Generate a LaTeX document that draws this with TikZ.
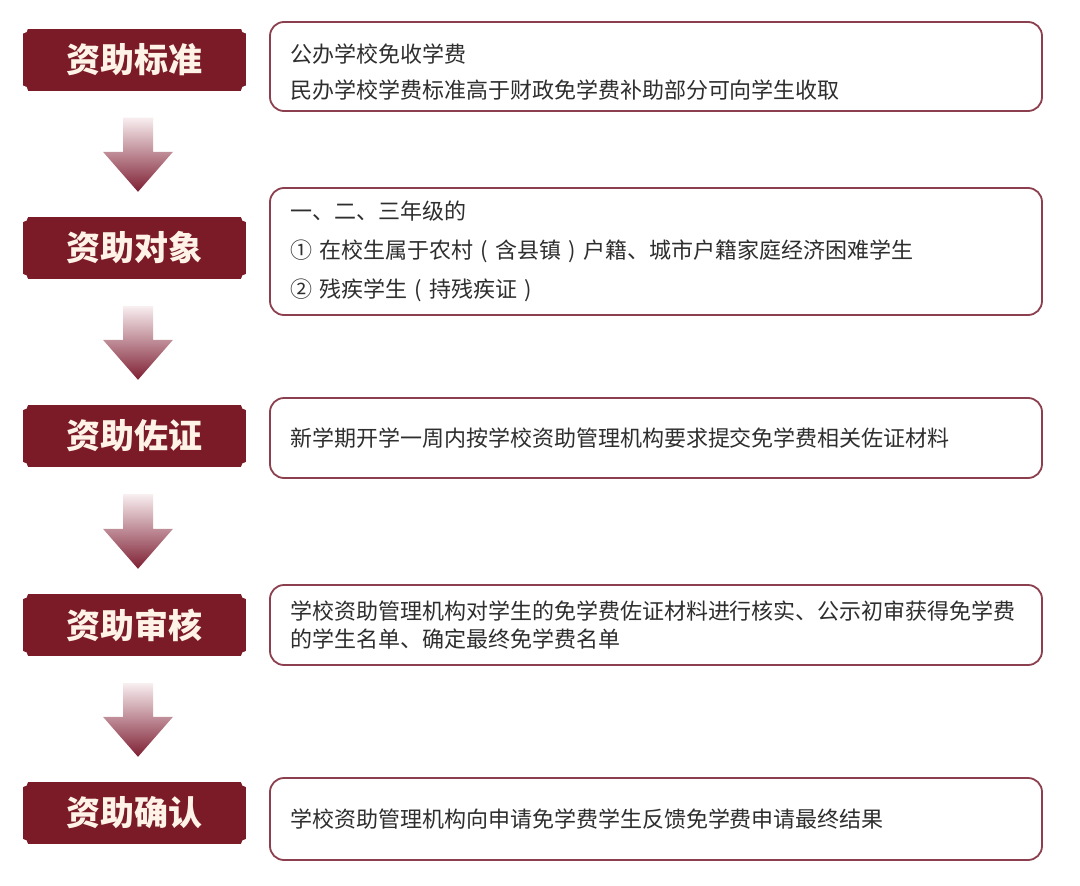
\documentclass[tikz,border=0pt]{standalone}
\usepackage{fontspec}
\setmainfont{Noto Sans CJK SC}
\usetikzlibrary{calc}

\definecolor{zhuse}{HTML}{7A1B27}
\definecolor{biankuang}{HTML}{8C3F4E}
\definecolor{wenzi}{HTML}{2E2E2E}
\definecolor{mise}{HTML}{FFF3E8}
\definecolor{jiantouding}{HTML}{F8EEF0}
\definecolor{jiantoudi}{HTML}{7E1F33}

\begin{document}
\begin{tikzpicture}[x=1pt,y=-1pt,
	biaoqian/.style={fill=zhuse,minimum width=223pt,minimum height=62pt,inner sep=0pt,
		text=mise,font=\fontsize{34}{36}\selectfont\bfseries,
		path picture={\foreach \jiao in {north west,north east,south west,south east}
			\fill[white] (path picture bounding box.\jiao) circle (5pt);}},
	kuang/.style={draw=biankuang,line width=1.8pt,rounded corners=14pt,text width=732pt,
		inner xsep=20pt,align=left,text=wenzi,font=\fontsize{22}{28}\selectfont},
	xiajiantou/.style={top color=jiantouding,bottom color=jiantoudi}]
		% 背景与边界
		\fill[white] (0,0) rectangle (1080,886);
		
		% 左侧标签
		\node[biaoqian] (L1) at (134.5,59.5) {资助标准};
		\node[biaoqian] (L2) at (134.5,248) {资助对象};
		\node[biaoqian] (L3) at (134.5,436) {资助佐证};
		\node[biaoqian] (L4) at (134.5,625) {资助审核};
		\node[biaoqian] (L5) at (134.5,813) {资助确认};
		
		% 右侧说明框
		\node[kuang,minimum height=89pt] (R1) at (656,66.5)
			{\rule{0pt}{30pt}公办学校免收学费\\[8pt]民办学校学费标准高于财政免学费补助部分可向学生收取};
		\node[kuang,minimum height=127pt] (R2) at (656,251.5)
			{一、二、三年级的\\[11pt]① 在校生属于农村 ( 含县镇 ) 户籍、城市户籍家庭经济困难学生\\[11pt]② 残疾学生 ( 持残疾证 )};
		\node[kuang,minimum height=80pt] (R3) at (656,438)
			{新学期开学一周内按学校资助管理机构要求提交免学费相关佐证材料};
		\node[kuang,minimum height=80pt] (R4) at (656,625)
			{学校资助管理机构对学生的免学费佐证材料进行核实、公示初审获得免学费\\的学生名单、确定最终免学费名单};
		\node[kuang,minimum height=82pt] (R5) at (656,819)
			{学校资助管理机构向申请免学费学生反馈免学费申请最终结果};
		
		% 向下箭头
		\foreach \a/\b in {L1/L2,L2/L3,L3/L4,L4/L5}{
			\coordinate (T) at ($(\a.south)+(3.5,27)$);
			\coordinate (P) at ($(\b.north)+(3.5,-25)$);
			\shade[xiajiantou] ($(T)+(-15,0)$) -- ($(T)+(15,0)$) -- ($(P)+(15,-40)$)
				-- ($(P)+(35,-40)$) -- (P) -- ($(P)+(-35,-40)$) -- ($(P)+(-15,-40)$) -- cycle;
		}
		
	\end{tikzpicture}
\end{document}
